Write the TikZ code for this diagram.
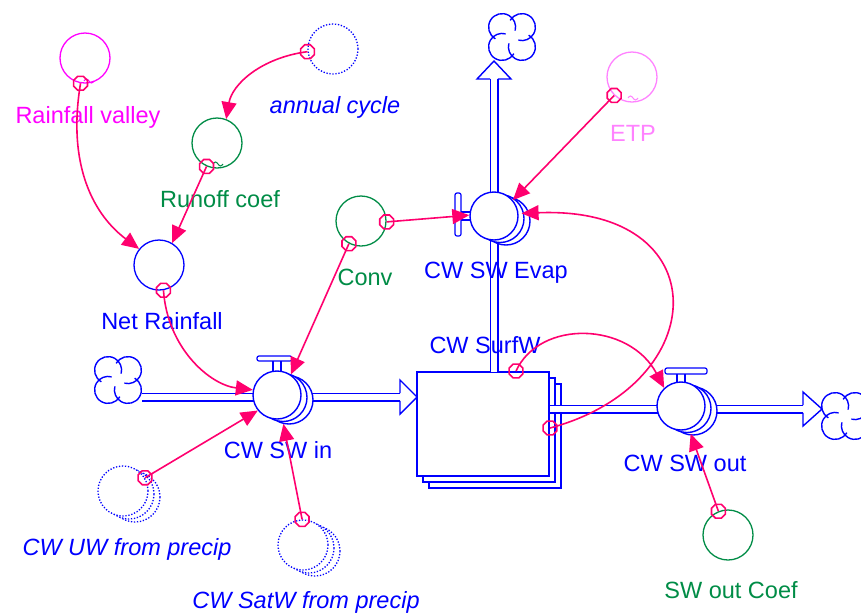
\documentclass[tikz,border=0pt]{standalone}
\usepackage{fontspec}
\setmainfont{Liberation Sans}
\usetikzlibrary{arrows.meta,shapes.geometric}
\definecolor{sblue}{RGB}{0,0,255}
\definecolor{smag}{RGB}{255,0,255}
\definecolor{sgreen}{RGB}{0,140,70}
\definecolor{spink}{RGB}{255,130,255}
\definecolor{slink}{RGB}{255,0,110}
\tikzset{
  sflcloud/.pic={
    \foreach \a in {45,135,225,315}{
      \draw[sblue, line width=1.4pt, shift={(\a:14)}] (\a-105:13.5) arc[start angle=\a-105, delta angle=255, radius=13.5];
    }
  }
}
\begin{document}
\begin{tikzpicture}[x=1pt,y=-1pt,
  conv/.style={circle, draw, line width=1.3pt, minimum size=50pt, inner sep=0pt, fill=white},
  dotconv/.style={circle, draw=sblue, line width=1.3pt, dash pattern=on 1.3pt off 1.7pt, minimum size=50pt, inner sep=0pt, fill=white},
  valve/.style={circle, draw=sblue, line width=1.4pt, minimum size=48pt, inner sep=0pt, fill=white},
  shadowc/.style={draw=sblue, line width=1.4pt, fill=white},
  lbl/.style={font=\fontsize{23.5}{26}\selectfont, inner sep=0pt, anchor=base},
  ilbl/.style={font=\fontsize{23.5}{26}\selectfont\itshape, inner sep=0pt, anchor=base},
  pipe/.style={draw=sblue, line width=1.4pt, double=white, double distance=6.2pt},
  pipeline/.style={draw=sblue, line width=1.4pt},
  link/.style={draw=slink, line width=1.6pt, -{Triangle[length=17pt,width=15pt]}},
  octmark/.style={regular polygon, regular polygon sides=8, draw=slink, line width=1.6pt, minimum size=15pt, inner sep=0pt},
  stockbox/.style={rectangle, draw=sblue, line width=2pt, fill=white, minimum width=132pt, minimum height=104pt, inner sep=0pt},
  tildeline/.style={line width=1pt},
]
\useasboundingbox (0,0) rectangle (861,614);

% ---- stock ----
\draw[sblue, line width=2pt, fill=white] (429,384) rectangle (561,488);
\draw[sblue, line width=2pt, fill=white] (423,378) rectangle (555,482);
\node[stockbox] (stock) at (483,424) {};

% ---- clouds ----
\pic at (118,380) {sflcloud};
\pic at (512,37) {sflcloud};
\pic at (845,416) {sflcloud};
\coordinate (cin) at (142,397);
\coordinate (inEnd) at (400,397);
\coordinate (outStart) at (stock.east |- 0,409);
\coordinate (outEnd) at (803,409);
\coordinate (evStart) at (494,372);
\coordinate (evEnd) at (494,79);

% ---- pipes ----
\draw[pipe] (cin) -- (inEnd);
\draw[pipeline] (400,393.2) -- (400,380) -- (417,397) -- (400,414) -- (400,400.8);
\draw[pipe] (outStart) -- (outEnd);
\draw[pipeline] (803,405.2) -- (803,392) -- (822,409) -- (803,426) -- (803,412.8);
\draw[pipe] (evStart) -- (evEnd);
\draw[pipeline] (490.2,79) -- (477,79) -- (494,61) -- (511,79) -- (497.8,79);

% ---- valves ----
% CW SW in
\draw[pipeline, line width=1.2pt, rounded corners=2pt] (257,356) rectangle (292,361);
\draw[pipeline, line width=1.2pt] (273,361) -- (273,372) (281,361) -- (281,372);
\draw[shadowc] (289,400) circle[radius=24];
\draw[shadowc] (283,397.5) circle[radius=24];
\node[valve] (swin) at (277,395) {};
% CW SW Evap
\draw[pipeline, line width=1.2pt, rounded corners=2pt] (455,193) rectangle (461,236);
\draw[pipeline, line width=1.2pt] (461,212) -- (471,212) (461,220) -- (471,220);
\draw[shadowc] (506,221) circle[radius=24];
\draw[shadowc] (500,218.5) circle[radius=24];
\node[valve] (evap) at (494,216) {};
% CW SW out
\draw[pipeline, line width=1.2pt, rounded corners=2pt] (665,368) rectangle (707,374);
\draw[pipeline, line width=1.2pt] (677,374) -- (677,384) (685,374) -- (685,384);
\draw[shadowc] (693,411) circle[radius=24];
\draw[shadowc] (687,408.5) circle[radius=24];
\node[valve] (swout) at (681,406) {};

% ---- converters ----
\node[conv, draw=smag] (rv) at (85,58) {};
\draw[smag, tildeline] (84,81) sin (86.5,79) cos (89,81) sin (91.5,83) cos (94,81);
\node[dotconv] (ac) at (333,49) {};
\node[conv, draw=sgreen] (rc) at (217,143) {};
\draw[sgreen, tildeline] (213,164) sin (215.5,162) cos (218,164) sin (220.5,166) cos (223,164);
\node[conv, draw=sblue] (nr) at (159,265) {};
\node[conv, draw=sgreen] (conv) at (361,221) {};
\node[conv, draw=spink] (etp) at (632,77) {};
\draw[spink, tildeline] (628,98) sin (630.5,96) cos (633,98) sin (635.5,100) cos (638,98);
\node[conv, draw=sgreen] (swoc) at (728,535) {};
\draw[draw=sblue, line width=1.3pt, dash pattern=on 1.3pt off 1.7pt, fill=white] (135,497) circle[radius=25];
\draw[draw=sblue, line width=1.3pt, dash pattern=on 1.3pt off 1.7pt, fill=white] (129,494) circle[radius=25];
\node[dotconv] (cwuw) at (123,491) {};
\draw[draw=sblue, line width=1.3pt, dash pattern=on 1.3pt off 1.7pt, fill=white] (315,551) circle[radius=25];
\draw[draw=sblue, line width=1.3pt, dash pattern=on 1.3pt off 1.7pt, fill=white] (309,548) circle[radius=25];
\node[dotconv] (cwsat) at (303,545) {};

% ---- labels ----
\node[lbl, text=smag] (lrv) at (88,123) {Rainfall valley};
\node[ilbl, text=sblue] (lac) at (335,113) {annual cycle};
\node[lbl, text=sgreen] (lrc) at (220,207) {Runoff coef};
\node[lbl, text=sblue] (lnr) at (162,329) {Net Rainfall};
\node[lbl, text=sgreen] (lconv) at (365,285) {Conv};
\node[lbl, text=sblue] (lev) at (496,278) {CW SW Evap};
\node[lbl, text=spink] (letp) at (633,141) {ETP};
\node[lbl, text=sblue] (lst) at (485,353) {CW SurfW};
\node[lbl, text=sblue] (lswin) at (278,458) {CW SW in};
\node[lbl, text=sblue] (lswout) at (685,471) {CW SW out};
\node[lbl, text=sgreen] (lswoc) at (731,598) {SW out Coef};
\node[ilbl, text=sblue] (lcwuw) at (127,555) {CW UW from precip};
\node[ilbl, text=sblue] (lcwsat) at (306,608) {CW SatW from precip};

% ---- connectors ----
\node[octmark] (m1) at (rv.260) {};
\node[octmark] (m2) at (ac.186) {};
\node[octmark] (m3) at (rc.246) {};
\node[octmark] (m4) at (nr.280) {};
\node[octmark] (m5) at (conv.242) {};
\node[octmark] (m6) at (conv.358) {};
\node[octmark] (m7) at (etp.226) {};
\node[octmark] (m8) at ([yshift=-4pt]stock.east) {};
\node[octmark] (m9) at ([xshift=33pt]stock.north) {};
\node[octmark] (m10) at (cwuw.31) {};
\node[octmark] (m11) at (cwsat.92) {};
\node[octmark] (m12) at (swoc.112) {};

\draw[link] (m1.center) .. controls +(-14,84) and +(-44,-33) .. (nr.141);
\draw[link] (m2.center) .. controls +(-46,6) and +(6,-35) .. (rc.69);
\draw[link] (m3.center) -- (nr.59);
\draw[link] (m4.center) .. controls +(4,58) and +(-43,-5) .. (swin.168);
\draw[link] (m5.center) -- (swin.56);
\draw[link] (m6.center) -- (evap.178);
\draw[link] (m7.center) -- (evap.40);
\draw[link] (m8.center) .. controls +(164,-44) and +(197,-8) .. ([xshift=3pt]evap.6);
\draw[link] (m9.center) .. controls +(24,-52) and +(-35,-66) .. (swout.133);
\draw[link] (m10.center) -- (swin.219);
\draw[link] (m11.center) -- ([yshift=-5pt]swin.285);
\draw[link] (m12.center) -- ([yshift=-5pt]swout.293);
\end{tikzpicture}
\end{document}
